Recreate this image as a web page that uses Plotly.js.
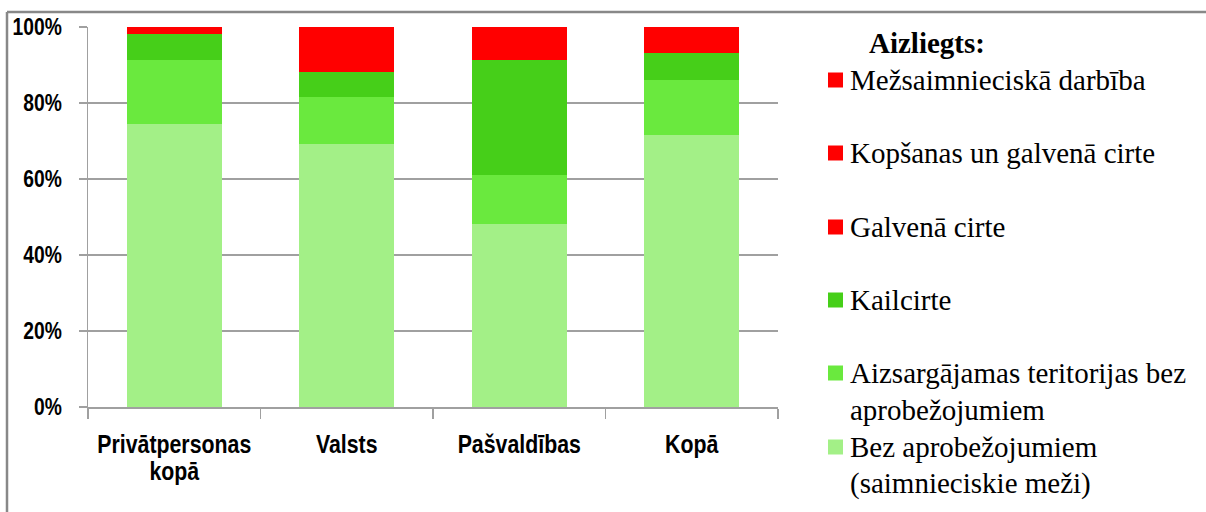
<!DOCTYPE html>
<html>
<head>
<meta charset="utf-8">
<script src="https://cdn.plot.ly/plotly-3.0.1.min.js"></script>
<style>html,body{margin:0;padding:0;background:#fff;}#chart{width:1206px;height:512px;}</style>
</head>
<body>
<div id="chart"></div>
<script>
const categories = ["Privātpersonas<br>kopā", "Valsts", "Pašvaldības", "Kopā"];
const seriesNames = [
  "Bez aprobežojumiem<br>(saimnieciskie meži)",
  "Aizsargājamas teritorijas bez<br>aprobežojumiem",
  "Kailcirte",
  "Galvenā cirte",
  "Kopšanas un galvenā cirte",
  "Mežsaimnieciskā darbība"
];
const legendTitle = "Aizliegts:";
const bezAprobezojumiem = [74.6, 69.2, 48.2, 71.6];
const aizsargajamas = [16.8, 12.5, 12.9, 14.5];
const kailcirte = [6.8, 6.4, 30.3, 7.1];
const galvenaCirte = [1.8, 11.9, 8.6, 6.8];
const kopsanas = [0, 0, 0, 0];
const mezsaimnieciska = [0, 0, 0, 0];
const seriesValues = [bezAprobezojumiem, aizsargajamas, kailcirte, galvenaCirte, kopsanas, mezsaimnieciska];
const seriesColors = ["#A3F087", "#6AE93E", "#46CF19", "#FF0000", "#FF0000", "#FF0000"];
const yTickVals = [0, 20, 40, 60, 80, 100];
const yTickText = ["0%", "20%", "40%", "60%", "80%", "100%"];

// plot-area geometry (pixels) used to place the hand-drawn legend
const L = 88, T = 27, W = 690, H = 380;
const px = v => (v - L) / W;
const py = v => (T + H - v) / H;

const traces = seriesNames.map((n, i) => ({
  type: "bar",
  name: n,
  x: categories,
  y: seriesValues[i],
  marker: {color: seriesColors[i], line: {width: 0}},
  hoverinfo: "skip",
  showlegend: false
}));

const serif = "'Liberation Serif', 'Times New Roman', serif";
const sans = "'Liberation Sans', Arial, sans-serif";

// legend layout: entries from top (reverse of stacking order)
const legendRows = [ [80], [153], [227], [300], [373, 410], [447, 483] ];
const annotations = [{
  xref: "paper", yref: "paper", x: px(867), y: py(43), xanchor: "left", yanchor: "middle",
  text: "<b>" + legendTitle + "</b>", showarrow: false,
  font: {family: serif, size: 29, color: "#000"}
}];
const shapes = [];
for (let k = 0; k < seriesNames.length; k++) {
  const idx = seriesNames.length - 1 - k;
  const lines = seriesNames[idx].split("<br>");
  const rows = legendRows[k];
  lines.forEach((ln, j) => {
    annotations.push({
      xref: "paper", yref: "paper", x: px(848), y: py(rows[j]), xanchor: "left", yanchor: "middle",
      text: ln, showarrow: false, font: {family: serif, size: 29, color: "#000"}
    });
  });
  shapes.push({
    type: "rect", xref: "paper", yref: "paper",
    x0: px(828), x1: px(843), y0: py(rows[0] + 7.5), y1: py(rows[0] - 7.5),
    fillcolor: seriesColors[idx], line: {width: 0}
  });
}
// chart frame (top and left edges)
shapes.push({type: "line", xref: "paper", yref: "paper", x0: px(7), x1: px(1206), y0: py(12), y1: py(12), line: {color: "#888", width: 2.5}});
shapes.push({type: "line", xref: "paper", yref: "paper", x0: px(7), x1: px(7), y0: py(12), y1: py(512), line: {color: "#888", width: 2.5}});

const layout = {
  width: 1206, height: 512,
  margin: {l: L, r: 1206 - L - W, t: T, b: 512 - T - H},
  paper_bgcolor: "#fff", plot_bgcolor: "#fff",
  barmode: "stack",
  bargap: 0.45,
  showlegend: false,
  xaxis: {
    type: "category",
    tickfont: {family: sans, size: 26, color: "#000", weight: "bold"},
    tickangle: 0,
    showline: true, linecolor: "#A0A0A0", linewidth: 1.5,
    ticks: "outside", tickson: "boundaries", ticklen: 10, tickcolor: "#A0A0A0", tickwidth: 1.5,
    ticklabelstandoff: 13,
    showgrid: false, fixedrange: true
  },
  yaxis: {
    range: [0, 100],
    tickvals: yTickVals, ticktext: yTickText,
    tickfont: {family: sans, size: 23.5, color: "#000", weight: "bold"},
    showline: true, linecolor: "#A0A0A0", linewidth: 1.5,
    ticks: "outside", ticklen: 8, tickcolor: "#A0A0A0", tickwidth: 1.5,
    ticklabelstandoff: 12,
    showgrid: true, gridcolor: "#A0A0A0", gridwidth: 1.5,
    zeroline: false, fixedrange: true
  },
  annotations: annotations,
  shapes: shapes
};

Plotly.newPlot("chart", traces, layout, {displayModeBar: false, staticPlot: true}).then(() => {
  // condense the tick labels horizontally to imitate the narrow bold face of the original
  document.querySelectorAll(".xtick text, .ytick text").forEach(t => {
    const x = parseFloat(t.getAttribute("x")) || 0;
    const tr = t.getAttribute("transform") || "";
    t.setAttribute("transform", tr + " translate(" + x + ",0) scale(0.82,1) translate(" + (-x) + ",0)");
    t.querySelectorAll("tspan.line").forEach((s, i) => { if (i > 0) s.setAttribute("dy", "1.05em"); });
  });
});
</script>
</body>
</html>
